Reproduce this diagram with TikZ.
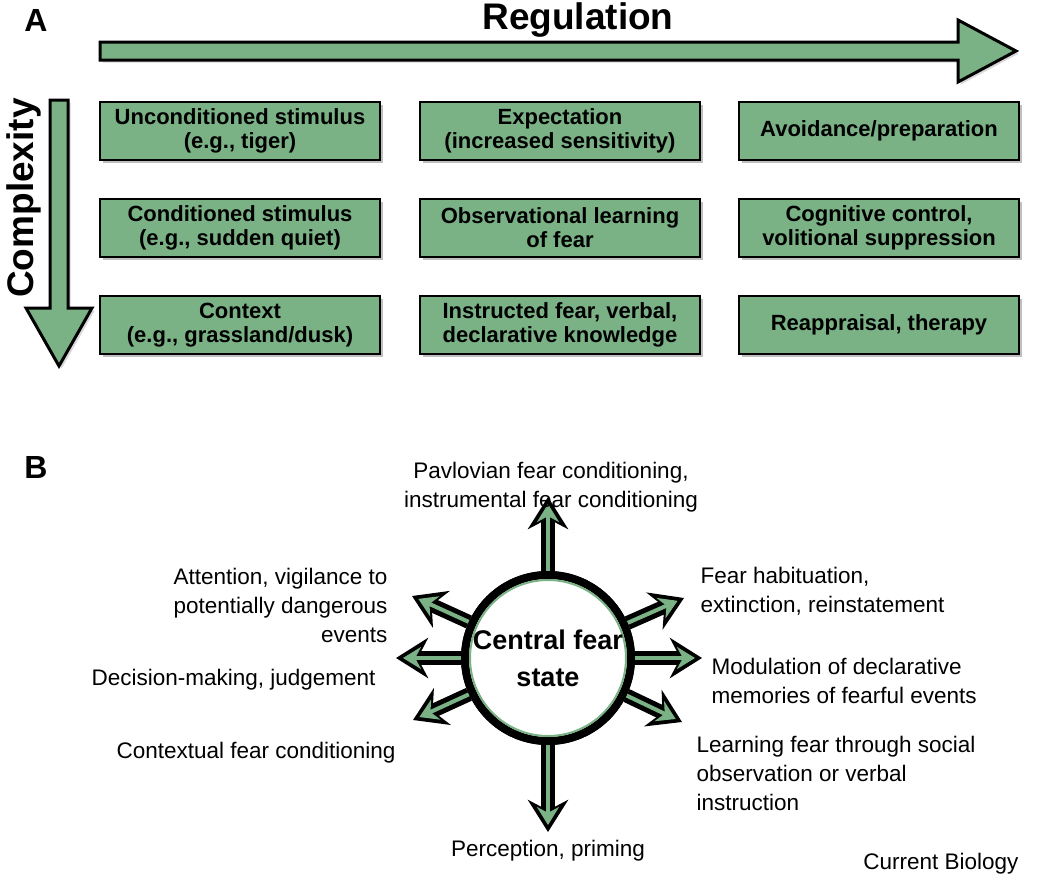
\documentclass[tikz,border=0pt]{standalone}
\usepackage{fontspec}
\setmainfont{Liberation Sans}
\usetikzlibrary{positioning,calc,arrows.meta,shadows}
\definecolor{fgreen}{RGB}{122,178,134}
\tikzset{
  stage/.style={draw=black, line width=2.2pt, fill=fgreen, minimum width=280pt, minimum height=58pt,
    align=center, font=\fontsize{22}{24}\selectfont\bfseries, drop shadow={shadow xshift=3pt, shadow yshift=-3pt, opacity=0.5}},
  effect/.style={align=center, font=\fontsize{22.5}{29}\selectfont},
  outarrow/.style={line width=14pt, -{Stealth[length=32pt,width=40pt]}, black},
  inarrow/.style={line width=4pt, -{Stealth[length=18pt,width=22pt]}, fgreen, shorten >=7pt},
}
\begin{document}
\begin{tikzpicture}[x=1pt,y=-1pt]
  \useasboundingbox (0,0) rectangle (1050,884);

  % panel A
  \node[font=\fontsize{32}{34}\selectfont\bfseries] (labA) at (36,20) {A};
  \node[font=\fontsize{37}{40}\selectfont\bfseries] (reg) at (578,20) {Regulation};
  \node[font=\fontsize{37}{40}\selectfont\bfseries, rotate=90] (cpx) at (24,198) {Complexity};

  \draw[line width=3pt, fill=fgreen, drop shadow={opacity=0.3}]
    (100,42) -- (958,42) -- (958,20) -- (1016,51) -- (958,82) -- (958,60) -- (100,60) -- cycle;
  \draw[line width=3pt, fill=fgreen, drop shadow={opacity=0.3}]
    (50,100) -- (68,100) -- (68,308) -- (92,308) -- (59,366) -- (26,308) -- (50,308) -- cycle;

  \node[stage] (us)  at (240,131) {Unconditioned stimulus\\(e.g., tiger)};
  \node[stage] (exp) at (560,131) {Expectation\\(increased sensitivity)};
  \node[stage] (avo) at (879,131) {Avoidance/preparation};
  \node[stage] (cs)  at (240,228) {Conditioned stimulus\\(e.g., sudden quiet)};
  \node[stage] (obs) at (560,228) {Observational learning\\of fear};
  \node[stage] (cog) at (879,228) {Cognitive control,\\volitional suppression};
  \node[stage] (ctx) at (240,325) {Context\\(e.g., grassland/dusk)};
  \node[stage] (ins) at (560,325) {Instructed fear, verbal,\\declarative knowledge};
  \node[stage] (rea) at (879,325) {Reappraisal, therapy};

  % panel B
  \node[font=\fontsize{32}{34}\selectfont\bfseries] (labB) at (36,467) {B};

  \node[circle, minimum size=166pt, line width=8pt, draw=black, fill=white,
        drop shadow={opacity=0.4}] (fear) at (548,658) {};
  \foreach \n/\x/\y in {up/548/497, dn/548/832, lt/396/658, rt/702/658,
                        ul/412/596, ur/684/598, ll/413/720, lr/682/722} {
    \coordinate (\n) at (\x,\y);
    \draw[outarrow] (fear) -- (\n);
    \draw[inarrow] (fear) -- (\n);
  }
  \node[circle, minimum size=166pt, line width=8pt, draw=black, fill=white] (fearin) at (fear) {};
  \draw[fgreen, line width=2pt] (fear) circle (78);
  \node[align=center, font=\fontsize{27}{37}\selectfont\bfseries] (fst) at (fear) {Central fear\\state};

  \node[effect] (pav) at (551,487) {Pavlovian fear conditioning,\\instrumental fear conditioning};
  \node[effect, align=right, anchor=east] (att) at (391,605) {Attention, vigilance to\\potentially dangerous\\events};
  \node[effect, anchor=east] (dec) at (379,680) {Decision-making, judgement};
  \node[effect, anchor=east] (ctf) at (399,753) {Contextual fear conditioning};
  \node[effect, align=left, anchor=west] (hab) at (697,591) {Fear habituation,\\extinction, reinstatement};
  \node[effect, align=left, anchor=west] (mod) at (708,681) {Modulation of declarative\\memories of fearful events};
  \node[effect, align=left, anchor=west] (soc) at (693,773) {Learning fear through social\\observation or verbal\\instruction};
  \node[effect] (per) at (548,851) {Perception, priming};
  \node[effect, anchor=east] (cb) at (1022,864) {Current Biology};
\end{tikzpicture}
\end{document}
